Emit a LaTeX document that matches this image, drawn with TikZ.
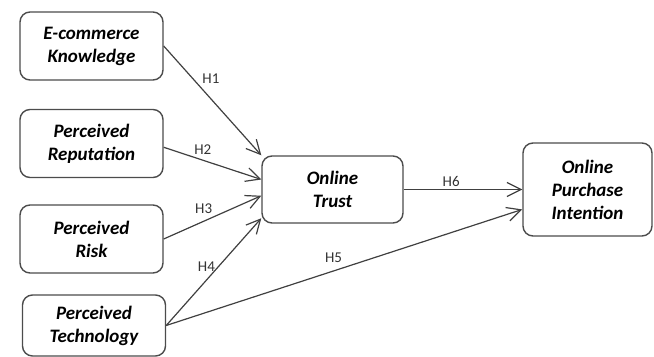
\documentclass[tikz,border=0pt]{standalone}
\usepackage{fontspec}
\setmainfont{Carlito}
\usetikzlibrary{arrows.meta}
\tikzset{
  construct/.style={
    rectangle, draw=black!70, fill=white, line width=0.7pt, rounded corners=5pt,
    minimum width=71.5pt, minimum height=34pt,
    align=center, font=\fontsize{9.5}{11.5}\selectfont\bfseries\itshape, inner sep=2pt,
  },
  hyp/.style={
    -{Straight Barb[length=7pt, width=7pt]}, line width=0.6pt, draw=black!75,
  },
  hlabel/.style={
    font=\fontsize{7.5}{8}\selectfont, inner sep=1pt, text=black!80,
  }
}
\begin{document}
\begin{tikzpicture}[x=0.5pt, y=-0.5pt]
  \useasboundingbox (0,0) rectangle (654,357);

  \node[construct] (know) at (91.5, 46) {E-commerce\\Knowledge};
  \node[construct] (rep)  at (91.5, 143.5) {Perceived\\Reputation};
  \node[construct] (risk) at (91.5, 239) {Perceived\\Risk};
  \node[construct, minimum height=30.5pt] (tech) at (94, 325.5) {Perceived\\Technology};

  \node[construct, minimum width=70.5pt, minimum height=33.5pt] (trust) at (332.5, 189.5)
    {Online\\Trust};
  \node[construct, minimum width=64.5pt, minimum height=46.5pt] (intent) at (587.5, 189.5)
    {Online\\Purchase\\Intention};

  \draw[hyp] (know.east) -- node[hlabel, pos=0.37, above right] {H1} (trust.north west);
  \draw[hyp] (rep.-3)    -- node[hlabel, pos=0.4, above=1.5pt] {H2} (trust.172);
  \draw[hyp] (risk.east) -- node[hlabel, pos=0.41, above=2.5pt] {H3} (trust.185);
  \draw[hyp] (tech.east) -- node[hlabel, pos=0.55, left=0.5pt] {H4} (trust.202);
  \draw[hyp] (tech.east) -- node[hlabel, pos=0.47, above=3pt] {H5} (intent.197);
  \draw[hyp] (trust.east) -- node[hlabel, pos=0.4, above] {H6} (intent.west);

\end{tikzpicture}
\end{document}
